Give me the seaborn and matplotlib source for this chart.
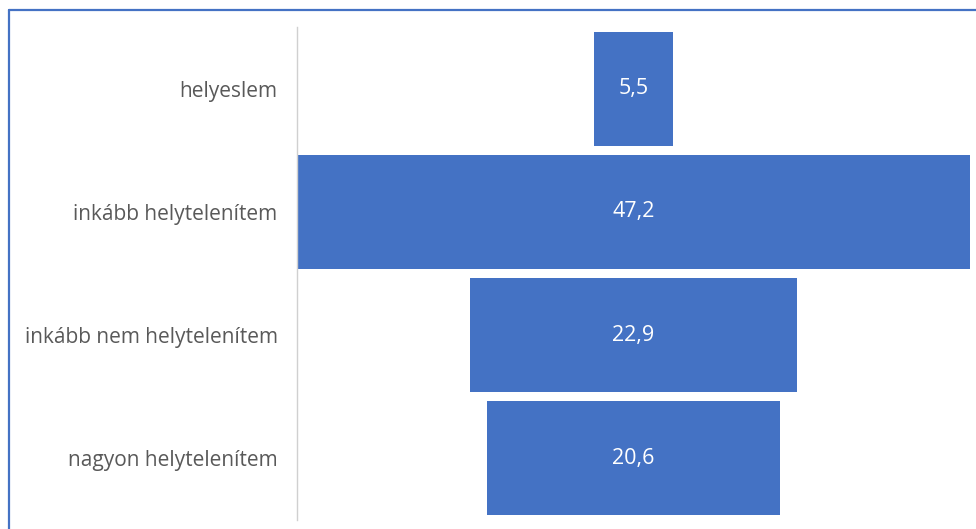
import matplotlib.pyplot as plt
import seaborn as sns
import pandas as pd
from matplotlib.lines import Line2D

# funnel data
categories = ['helyeslem', 'inkább helytelenítem', 'inkább nem helytelenítem', 'nagyon helytelenítem']
values = [5.5, 47.2, 22.9, 20.6]

bar_color = '#4472C4'
text_gray = '#595959'

sns.set_theme(style='white')
plt.rcParams['font.family'] = ['Open Sans', 'DejaVu Sans']

df = pd.DataFrame({'category': categories, 'value': values})
vmax = max(values)
offsets = [(vmax - v) / 2 for v in values]

fig = plt.figure(figsize=(9.76, 5.29), dpi=100)
ax = fig.add_axes([297 / 976, 1 - 520 / 529, (970 - 297) / 976, 493 / 529])

sns.barplot(data=df, x='value', y='category', orient='y', color=bar_color,
            saturation=1, width=0.925, linewidth=0, left=offsets, ax=ax)

ax.set_xlim(0, vmax)
ax.set_xlabel('')
ax.set_ylabel('')
ax.set_xticks([])
ax.tick_params(axis='y', length=0, pad=14, labelsize=15, labelcolor=text_gray)

for s in ['top', 'right', 'bottom']:
    ax.spines[s].set_visible(False)
ax.spines['left'].set_color('#d0d0d0')
ax.spines['left'].set_linewidth(1)

ax.bar_label(ax.containers[0], labels=[f'{v:.1f}'.replace('.', ',') for v in values],
             label_type='center', color='white', fontsize=15.5)

# blue frame (top and left edge visible)
fig.add_artist(Line2D([9 / 976, 1], [1 - 10 / 529] * 2, color='#4472C4', lw=1.6))
fig.add_artist(Line2D([9 / 976] * 2, [0, 1 - 10 / 529], color='#4472C4', lw=1.6))

fig.savefig('out.png', dpi=100)
